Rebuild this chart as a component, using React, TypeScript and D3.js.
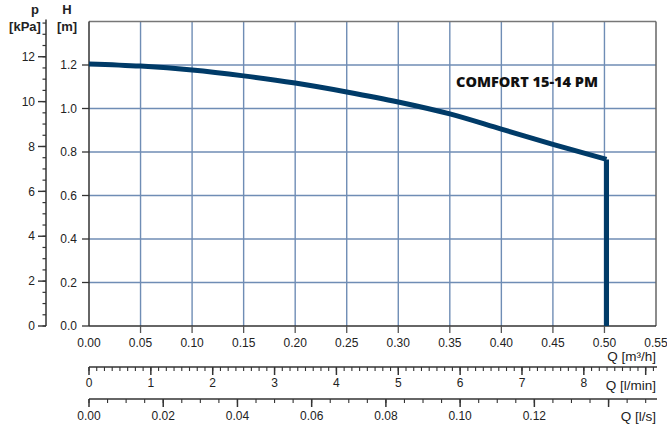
import React from "react";
import * as d3 from "d3";

const flowQ = [0, 0.05, 0.1, 0.15, 0.2, 0.25, 0.3, 0.35, 0.4, 0.45, 0.502];
const headH = [1.205, 1.195, 1.177, 1.15, 1.117, 1.076, 1.03, 0.975, 0.905, 0.835, 0.766];

const qTicks = [0, 0.05, 0.1, 0.15, 0.2, 0.25, 0.3, 0.35, 0.4, 0.45, 0.5, 0.55];
const hTicks = [0, 0.2, 0.4, 0.6, 0.8, 1.0, 1.2];
const pTicks = [0, 2, 4, 6, 8, 10, 12];
const lminTicks = [0, 1, 2, 3, 4, 5, 6, 7, 8, 9];
const lminLabels = [0, 1, 2, 3, 4, 5, 6, 7, 8];
const lsTicks = [0, 0.02, 0.04, 0.06, 0.08, 0.1, 0.12, 0.14];
const lsLabels = [0, 0.02, 0.04, 0.06, 0.08, 0.1, 0.12];
const title = "COMFORT 15-14 PM";

const W = 667;
const H = 426;
const L = 89;
const R = 656;
const T = 21.5;
const B = 326;
const QMAX = 0.55;

export default function App() {
  const x = d3.scaleLinear().domain([0, QMAX]).range([L, R]);
  const y = d3.scaleLinear().domain([0, 1.4]).range([B, T]);
  const yP = d3.scaleLinear().domain([0, 13.57]).range([B, T]);
  const xMin = d3.scaleLinear().domain([0, QMAX / 0.06]).range([L, R]);
  const xLs = d3.scaleLinear().domain([0, QMAX / 3.6]).range([L, R]);

  const pts: [number, number][] = flowQ.map((q, i) => [q, headH[i]]);
  const line = d3
    .line<[number, number]>()
    .x((d) => x(d[0]))
    .y((d) => y(d[1]))
    .curve(d3.curveMonotoneX);
  const curvePath = line(pts) || "";
  const last = pts[pts.length - 1];
  const dropPath = `M${x(last[0])},${y(last[1])}L${x(last[0])},${y(0)}`;

  const pMinor = d3.range(0, 13.51, 0.5);
  const lminMinor = d3.range(0, QMAX / 0.06, 0.125);
  const lsMinor = d3.range(0, QMAX / 3.6 + 1e-9, 0.005);

  const font = "Liberation Sans, Arial, sans-serif";
  const gridC = "#6f8db5";
  const axisC = "#333";
  const yMinLine = 367;
  const yLsLine = 399;
  const tf = 12;
  const uf = 13.5;
  const hf = 13;

  return (
    <svg
      width={W}
      height={H}
      style={{ position: "absolute", left: 0, top: 0, background: "#fff" }}
      fontFamily={font}
    >
      <rect x={0} y={0} width={W} height={H} fill="#fff" />
      {/* grid */}
      {qTicks.slice(1, -1).map((q) => (
        <line key={"gv" + q} x1={x(q)} x2={x(q)} y1={T} y2={B} stroke={gridC} strokeWidth={1.4} />
      ))}
      {hTicks.slice(1).map((h) => (
        <line key={"gh" + h} x1={L} x2={R} y1={y(h)} y2={y(h)} stroke={gridC} strokeWidth={1.4} />
      ))}
      {/* frame */}
      <line x1={L} x2={R} y1={T} y2={T} stroke="#777" strokeWidth={1.5} />
      <line x1={R} x2={R} y1={T} y2={B} stroke="#666" strokeWidth={1.5} />
      <line x1={L} x2={L} y1={T} y2={B} stroke={axisC} strokeWidth={1.5} />
      <line x1={L} x2={R} y1={B} y2={B} stroke={axisC} strokeWidth={1.5} />

      {/* H axis */}
      {hTicks.map((h) => (
        <g key={"h" + h}>
          <line x1={82} x2={L} y1={y(h)} y2={y(h)} stroke={axisC} strokeWidth={1.3} />
          <text x={77} y={y(h) + 4.2} fontSize={tf} textAnchor="end" fill="#222">
            {h.toFixed(1)}
          </text>
        </g>
      ))}
      <text x={67} y={14} fontSize={hf} fontWeight="bold" textAnchor="middle" fill="#222">H</text>
      <text x={67} y={31} fontSize={hf} fontWeight="bold" textAnchor="middle" fill="#222">[m]</text>

      {/* p axis */}
      <line x1={46} x2={46} y1={T - 2} y2={B} stroke={axisC} strokeWidth={1.5} />
      {pMinor.map((p) => (
        <line key={"pm" + p} x1={42.5} x2={46} y1={yP(p)} y2={yP(p)} stroke={axisC} strokeWidth={1.2} />
      ))}
      {pTicks.map((p) => (
        <g key={"p" + p}>
          <line x1={38} x2={46} y1={yP(p)} y2={yP(p)} stroke={axisC} strokeWidth={1.4} />
          <text x={35} y={yP(p) + 4.2} fontSize={tf} textAnchor="end" fill="#222">
            {p}
          </text>
        </g>
      ))}
      <text x={35} y={14} fontSize={hf} fontWeight="bold" textAnchor="middle" fill="#222">p</text>
      <text x={25} y={31} fontSize={hf} fontWeight="bold" textAnchor="middle" fill="#222">[kPa]</text>

      {/* Q m3/h axis */}
      {qTicks.slice(1, -1).map((q) => (
        <line key={"qt" + q} x1={x(q)} x2={x(q)} y1={B} y2={B + 7} stroke="#555" strokeWidth={1.3} />
      ))}
      {qTicks.map((q) => (
        <text key={"ql" + q} x={x(q)} y={B + 21} fontSize={tf} textAnchor="middle" fill="#222">
          {q.toFixed(2)}
        </text>
      ))}
      <text x={R} y={361} fontSize={uf} textAnchor="end" fill="#222">Q [m³/h]</text>

      {/* l/min axis */}
      <line x1={L} x2={R + 1} y1={yMinLine} y2={yMinLine} stroke={axisC} strokeWidth={1.5} />
      {lminMinor.map((v) => (
        <line key={"lm" + v} x1={xMin(v)} x2={xMin(v)} y1={yMinLine} y2={yMinLine + 4} stroke={axisC} strokeWidth={1.1} />
      ))}
      {lminTicks.map((v) => (
        <line key={"lt" + v} x1={xMin(v)} x2={xMin(v)} y1={yMinLine} y2={yMinLine + 8} stroke={axisC} strokeWidth={1.5} />
      ))}
      {lminLabels.map((v) => (
        <text key={"ll" + v} x={xMin(v)} y={387} fontSize={tf} textAnchor="middle" fill="#222">
          {v}
        </text>
      ))}
      <text x={R} y={390} fontSize={uf} textAnchor="end" fill="#222">Q [l/min]</text>

      {/* l/s axis */}
      <line x1={L} x2={R + 1} y1={yLsLine} y2={yLsLine} stroke={axisC} strokeWidth={1.5} />
      {lsMinor.map((v) => (
        <line key={"sm" + v} x1={xLs(v)} x2={xLs(v)} y1={yLsLine} y2={yLsLine + 4} stroke={axisC} strokeWidth={1.1} />
      ))}
      {lsTicks.map((v) => (
        <line key={"st" + v} x1={xLs(v)} x2={xLs(v)} y1={yLsLine} y2={yLsLine + 8} stroke={axisC} strokeWidth={1.5} />
      ))}
      {lsLabels.map((v) => (
        <text key={"sl" + v} x={xLs(v)} y={420} fontSize={tf} textAnchor="middle" fill="#222">
          {v.toFixed(2)}
        </text>
      ))}
      <text x={R} y={421} fontSize={uf} textAnchor="end" fill="#222">Q [l/s]</text>

      {/* curve */}
      <path d={curvePath} fill="none" stroke="#003b68" strokeWidth={5} strokeLinejoin="round" />
      <path d={dropPath} fill="none" stroke="#003b68" strokeWidth={5} />
      <text x={456} y={87} fontSize={14.5} fontWeight={800} fontFamily="Open Sans, sans-serif" fill="#111">
        {title}
      </text>
    </svg>
  );
}
